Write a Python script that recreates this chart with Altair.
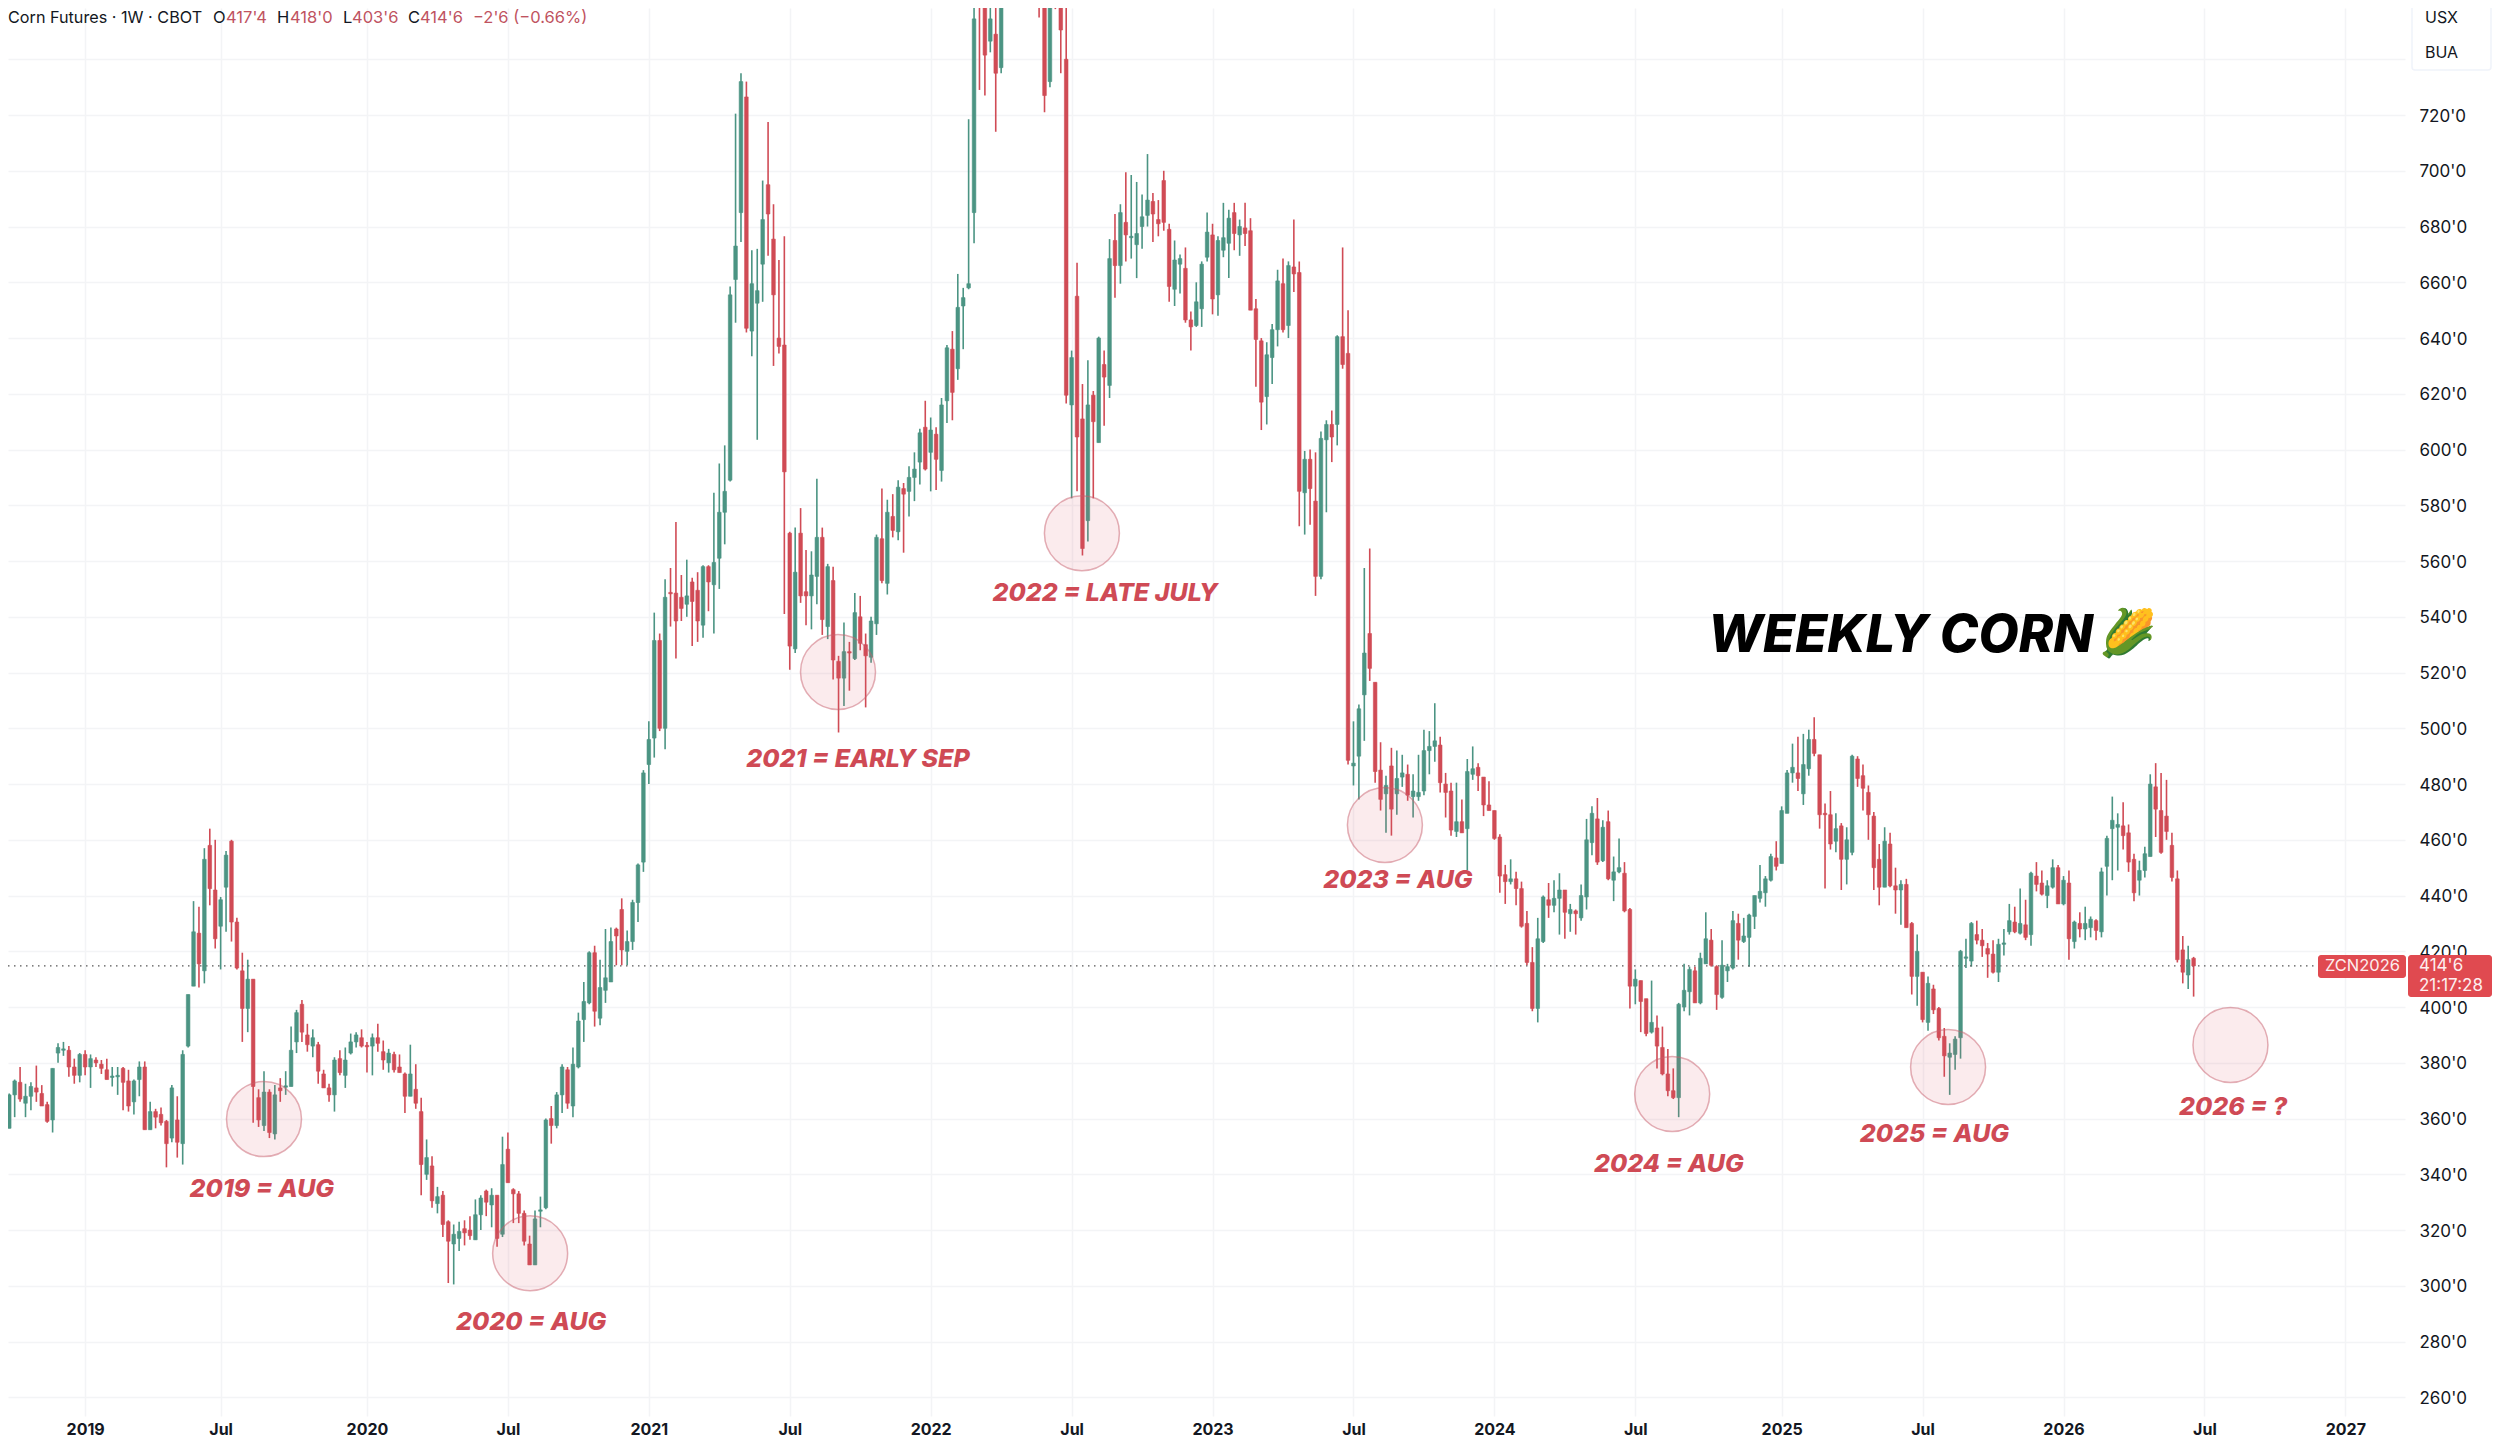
import altair as alt
import pandas as pd

# open, high, low, close per weekly bar
bars_a = [(357,367,355,356),(356.5,369,356.5,368.5),(368.5,374,360.5,373.5),(373,378.5,366,367),(365.5,372.5,360.5,368),(368,373,363,371.5),(371,379,366,369.5),(369,372,364.5,364.5),(365,366,358.5,359),(359.5,378,355,378),
(383.5,387,380,385.5),(384.5,387.5,382.5,385),(384.5,386,375,378.5),(378.5,381.5,372.5,375.5),(375.5,383.5,373,383),(383,384.5,375.5,378.5),(378.5,383,371,381.5),(381,382,378.5,380),(379.5,381,376,378),(377.5,381.5,374,374),
(374.75,378.5,371.5,375.25),(375,378.5,368.5,375.5),(378,378.5,363,373),(373.5,377.5,362.5,364.5),(366,374,361.5,373.5),(374,380.5,368,378.5),(378.5,380.5,356,356),(356,366,356,362.5),(362.5,363.5,356.5,360.5),(361.5,364,357.5,358.5),
(359,359.5,342.5,351),(353,372,351.5,371),(359.5,368,346,351.5),(351,384.5,343.5,383),(386,404.5,385.5,404.5),(407.5,438,407.5,427),(426.5,436,407,415.5),(413,457,408.5,453),(458,464,436.5,442.5),(442,460,421,424.5),
(429,439.5,413.5,438.5),(443,456,427,454.5),(459.5,460,423.5,430.5),(430.5,432,413.5,414),(413,419.5,387.5,399.5),(399.5,417,391,410),(410,410,358.5,371.5),(367.5,370.5,357,359.5),(357.5,377,355.5,369.5),(369.5,370.5,353,355)]
bars_b = [(354.5,372,352.5,368.5),(371,374.5,366,370),(371.25,377,368.5,371.75),(371.5,393,371.5,384.5),(387.5,399,383.5,398),(401,402.5,387.5,391),(390,394,384,386.5),(386,392,382,389),(386.5,387.5,372.5,377),(376,377.5,371,371),
(371,372.5,366,368.5),(368.5,382,362.5,381),(381.5,384.5,375.5,376.5),(375.5,385.5,371,381),(383.5,390.5,383,387.5),(387.5,391,385.5,390),(389,392,385.5,386),(386.25,387.5,376.5,385.75),(386,390.5,375.5,389),(389,394,384,387),
(384,388,377.5,381),(380,385,376.5,383.5),(383,384,376.5,377.5),(378.5,383,376.5,376.5),(376,376.5,362,368),(368,386.5,368,376),(370.5,379.5,363.5,365.5),(362.5,367.5,332.5,343.5),(340,352.5,338,346),(343,346.5,328,330.5),
(329.5,335.5,326,332),(332.5,334,317.5,322),(323,323.5,301,316),(315,322,300.5,318.5),(317,323,312.5,319.5),(320.5,323.5,314.5,319),(320,325,316.5,318),(316.5,331,316.5,325.5),(325.5,332.5,320,331.5),(334,334.5,325,330),
(329,335,321,332.5),(332.5,332.5,314,317),(318.5,353.5,317.5,343.5),(349,355,337,337),(334.5,335,322.5,333),(333,334,322.5,326),(326,327,314.5,316),(315,318,307.5,307.5),(307.5,327,307.5,324),(326.75,332,321,327.25)]
bars_c = [(328,360,327.5,359.5),(360,364.5,351,357.5),(357.5,369.5,356.5,368.5),(368.5,379.5,362,378.5),(377.5,378.5,363.5,365.5),(364.5,385.5,360.5,379.5),(378.5,398,378,395),(395.5,409,387.5,402),(401.5,420,401,419.5),(419.5,422,393,398.5),
(396,417,393.5,407),(406,428,401.5,410.5),(409,428.5,409,423.5),(428,428.5,415,425.5),(435,439,415,420.5),(420,427.5,415,423.5),(423.5,438.5,420.5,437.5),(437.5,451.5,430.5,451),(452,485,448.5,484),(487,502.5,480,496),
(496.5,541.5,489.5,531.5),(531.5,534,499,500),(500,553.5,492.5,547),(548.75,557.5,536.5,548.25),(548.5,574,525,538.5),(547,555,538.5,543),(544.5,560.5,540,547.5),(552.5,554,529.5,545.5),(549.5,556,531,538.5),(537,558.5,532.5,558),
(558,558.5,542,552.5),(551.5,584.5,534,559.5),(561,595,550,577.5),(577.5,601.5,566,585),(589,658.5,588.5,655.5),(661,720.5,645.5,673),(685,735,674.5,732),(726.5,732,642,643.5),(642.5,671.5,633.5,659.5),(652.5,672,603.5,657),
(666.5,696.5,653,682.5),(695,717.5,669.5,684.5),(675.5,688,630,655.5),(640,668,634.5,637),(637.5,676.5,541,592),(570,570.5,521,529.5),(528.5,572,527,556),(570,579,545,547.5),(549,564,537,547.5),(547.5,563.5,535.5,555)]
bars_d = [(554.5,589.5,544.5,568.5),(568.5,572,533.5,539),(536.5,559,532,558),(553,558,517.5,524.5),(524,526,498.5,518),(518,538,508,527.5),(527.5,531,513.5,527),(525,548.5,524.5,541.5),(540,547.5,528,530.5),(530,534,507.5,526),
(525.5,540,523.5,538.5),(537.5,569.5,533.5,568.5),(568,586,552,553),(552,582,548,577.5),(576,584,568.5,571),(570.5,589,567.5,586.5),(586,588,563,584),(585,594,576,590),(590,599,581.5,593),(595.5,607.5,587.5,606),
(608,617.5,592.5,593),(599,611.5,585,607),(605.5,608,585.5,596.5),(592.5,618.5,588.5,616),(617.5,637.5,609.5,636.5),(636,642.5,610.5,620.5),(629,663,625,651),(651.5,658,636,654.5),(658,718.5,657.5,659.5),(685,770,674,754.5),
(775,790,729,762),(770,785,727,741.5),(746.5,765,742.5,754.5),(749,765,714,735),(737,780,735,775),(775,790,765,785),(785,805,775,795),(795,815,785,805),(800,824,790,815),(805,820,785,790),
(790,805,770,780),(780,790,755,770),(770,790,721,727),(732,780,730,770),(775,790,758,770),(775,790,735,750.5),(740,762,616.5,619.5),(616,635.5,582.5,633),(655,667,585,604.5),(611,623.5,562,564.5)]
bars_e = [(574.5,632,567,616),(619.5,621,582.5,610),(602.5,640.5,602.5,640),(630.5,635.5,608.5,626),(623,675.5,618.5,668.5),(675,684.5,654.5,666),(666,688,659.5,685),(681.5,699.5,667.5,677),(676,698.5,668.5,676.5),(673.5,696,661.5,677.5),
(680,691.5,672,683.5),(684,706,680,689.5),(689,692,674.5,684.5),(682.5,689.5,676.5,681),(696.5,700,678.5,681.5),(679,681,653,658.5),(657.5,675,651.5,668),(666.5,670,656,668.5),(665,672.5,645.5,646.5),(646.5,649.5,635.5,644),
(644.5,660,644,653),(650.5,667.5,644,666.5),(669,685,667.5,678),(677,681,648.5,654),(655.5,676.5,648,675),(671.5,688.5,669,676),(674,686,661.5,683),(685,688.5,671.5,677.5),(677,682.5,669.5,680),(679.5,688.5,673,677.5),
(678.5,683,650,650),(650.5,654,622.5,639.5),(639,640,607,617),(619,638.5,609,634),(633,645,623.5,643),(643,664.5,637,660.5),(659.5,668.5,642,643),(644.5,667.5,640,666),(665.5,682.5,656.5,663),(663.5,667.5,572.5,585),
(584.5,599.5,569.5,596.5),(596.5,600,573,586),(581.5,599,547.5,554.5),(554.5,606.5,553.5,604),(603.5,610.5,577.5,609),(609,614,595.5,604.5),(609,641,601.5,640.5),(640.5,672.5,629,630.5),(634.5,650,487,488.5),(486.5,502.5,479.5,487.5)]
bars_f = [(490,508.5,474.5,507),(512,557.5,495.5,527),(534,564.5,517,521.5),(516.5,516.5,480.5,484.5),(485,495,470.5,474.5),(476.5,483,462.5,479.5),(486.5,493,461.5,471),(476.5,492,469,482),(482.5,490.5,479,484),(483.5,487,474,476),
(475.5,483.5,468,477.5),(475.5,490.5,474,477),(477.5,499.5,476,492),(492,499,483.5,493.5),(493.5,509,488,495.5),(494,497,477,480.5),(480,484,468,477),(477.5,480.5,461.5,463.5),(463,480.5,461,466.5),(466.5,474.5,462.5,462.5),
(464,489,449,484.5),(483.5,493.5,481.5,485.5),(486,487.5,477.5,483),(482.5,482.5,468.5,472.5),(472.5,481,470.5,470.5),(470.5,470.5,460,460.5),(461,462,441,447),(447.5,451,437,445),(445,453,444,446),(446,448.5,436.5,442.5),
(442.5,445,428.5,429),(430,434.5,415,416),(416,421.5,398.5,399.5),(399.5,432,394.5,424.5),(423.5,440,423,439.5),(438.5,444.5,432,436.5),(436.5,445.5,434,439),(439,448,426,442),(442,442,424.5,434),(433.5,437,427,435),
(434.5,435,426,433.5),(432,444,431,440),(439.5,467.5,435,460),(459,472,454.5,469.5),(467.5,475,451,452),(452.5,467,452,464.5),(466.5,470.5,445.5,446),(445.5,454,438,448.5),(448.5,460.5,448,450),(448,452,434,434.5)]
bars_g = [(435,435.5,399.5,407.5),(407.5,413.5,401,410),(409.5,409.5,391,402),(403,403,389.5,390.5),(391,409.5,390.5,394.5),(392.5,397,378,386),(385.5,393,375.5,376),(376,385,368,370),(370,378,367,367.5),(367.5,401.5,360.5,401),
(400,415.5,398.5,406),(405.5,414.5,397,413.5),(413,414.5,401.5,401.5),(401.5,419.5,401,417.5),(415.5,434,415.5,424.5),(424,428,414.5,415),(414.5,415,399,404.5),(403.5,424,403,415),(413,415.5,409,414.5),(414,434.5,413.5,431),
(430,433.5,417,424),(423.5,432,423,425.5),(425,433.5,414.5,433),(432.5,440,428,440),(439,451,437.5,441.5),(441,447,436,446),(445.5,455,445,454),(453.5,459.5,449,450.5),(451.5,472,451.5,470.5),(469.5,485,469.5,484),
(484,494.5,480.5,486),(484,497,477.5,482),(476.5,498,472.5,487),(485.5,499.5,483,496),(496,504,490,491),(490.5,490.5,464,469),(469.5,473,442.5,469),(469,477.5,456.5,458.5),(459.5,469.5,455.5,464),(465,466,442,453),
(453,464.5,444,460),(455.5,490.5,454.5,490),(489,490,479,482),(483,487,470.5,478.5),(477,479.5,460,469),(468.5,470,442,450),(453,458.5,436.5,443),(443,464.5,443,459.5),(458.5,462.5,443,443.5),(443.5,450,433.5,442)]
bars_h = [(442,445.5,429.5,444),(444,446,428.5,428.5),(430,430.5,404.5,411),(411,426,400.5,420),(412.5,412.5,394.5,395.5),(394.5,411,391.5,408.5),(406.5,408,397.5,399),(399.5,400,388,389),(389.5,392.5,375,382.5),(382,387,368.5,383.5),
(383,389.5,377.5,388.5),(389,420.5,381.5,420),(417.5,424.5,414,418),(416.5,430.5,414.5,430),(426,431,422.5,424),(424,428,418,422),(421,423,410.5,419),(419,424,412,412.5),(412.5,424.5,409,422.5),(422.5,428,418.5,423),
(427,437,426,431),(430.5,436,426.5,427),(426.5,442.5,426,430),(429.5,438.5,424,425),(426,448.5,422,448),(447,452,441.5,444),(444.5,449,440,440.5),(440,445.5,435.5,443.5),(443,453,442.5,450),(450,451,437,437),
(437,447,436.5,445.5),(444.5,449,417,424.5),(423.5,431,421,430.5),(430,434,425,428),(428,436,424,430),(428.5,432.5,425,431.5),(431,431.5,424,427.5),(427,450,425,448.5),(450.5,461.5,440,460.5),(464,475.5,445.5,467),
(464.5,469.5,449,465.5),(465,473.5,456.5,461.5),(462.5,465.5,448.5,452),(453,455,438,441),(445.5,452.5,440,449),(449,457.5,446.5,455),(454,483.5,454,480),(479,487.5,461,471),(470.5,484,455,455.5),(468.5,481.5,460,463),
(458,462.5,445,446.5),(446,449,416,417),(420.5,425.5,408.5,412.5),(411.5,422,406.5,417),(417.5,418,403.75,414.75)]

tick_weeks = [15,40,67,93,119,145,171,197,223,249,275,301,328,354,380,406,432]
tick_labels = ["2019","Jul","2020","Jul","2021","Jul","2022","Jul","2023","Jul","2024","Jul","2025","Jul","2026","Jul","2027"]
price_ticks = list(range(260, 741, 20))

zone_labels = ["2019 = AUG","2020 = AUG","2021 = EARLY SEP","2022 = LATE JULY","2023 = AUG","2024 = AUG","2025 = AUG","2026 = ?"]
zone_weeks = [48.0,97.1,153.9,198.9,254.8,307.8,358.7,410.8]
zone_prices = [359.8,311.7,520.2,570.0,465.3,368.8,378.5,386.4]
label_weeks = [47.6,97.3,157.6,203.2,257.2,307.2,356.2,411.3]
label_prices = [334.6,287.1,489.1,548.6,445.7,343.8,354.6,364.2]

last_price = 414.75

GREEN, RED = "#4b9483", "#d04b55"
FONT = "Inter"

rows = bars_a + bars_b + bars_c + bars_d + bars_e + bars_f + bars_g + bars_h
df = pd.DataFrame(rows, columns=["o", "h", "l", "c"])
df["week"] = range(len(df))
df["side"] = ["up" if c >= o else "down" for o, c in zip(df.o, df.c)]

xs = alt.Scale(domain=[0.77, 443], nice=False, zero=False, padding=0)
ys = alt.Scale(domain=[253.3, 758.4], nice=False, zero=False)
side = alt.Scale(domain=["up", "down"], range=[GREEN, RED])

x_axis = alt.Axis(
    title=None, values=tick_weeks, grid=True, gridColor="#f3f4f6", gridWidth=1.5,
    domain=False, ticks=False, labelPadding=5, labelFontSize=16, labelFont=FONT,
    labelColor="#131722", labelFlush=False, labelOverlap=False,
    labelExpr="%s[indexof(%s, datum.value)]" % (tick_labels, tick_weeks),
    labelFontWeight={"condition": {"test": "datum.label != 'Jul'", "value": "bold"}, "value": "normal"},
)
y_axis = alt.Axis(
    title=None, orient="right", values=price_ticks, grid=True, gridColor="#f3f4f6", gridWidth=1.5,
    domain=False, ticks=False, labelPadding=14, labelFontSize=17, labelFont=FONT, labelOffset=1,
    labelColor="#131722", labelOverlap=False,
    labelExpr="datum.value > 720 ? '' : format(datum.value, 'd') + \"'0\"",
)

X = lambda f: alt.X(f, scale=xs, axis=x_axis)
Y = lambda f: alt.Y(f, scale=ys, axis=y_axis)

wicks = alt.Chart(df).mark_rule(strokeWidth=1.6, clip=True).encode(
    x=X("week:Q"), y=Y("l:Q"), y2="h:Q",
    color=alt.Color("side:N", scale=side, legend=None),
)
bodies = alt.Chart(df).mark_bar(size=3.6, strokeWidth=0.6, clip=True, orient="vertical").encode(
    x=X("week:Q"), y=Y("o:Q"), y2="c:Q",
    color=alt.Color("side:N", scale=side, legend=None),
    stroke=alt.Stroke("side:N", scale=side, legend=None),
)

price_line = alt.Chart(pd.DataFrame({"a": [0.77], "b": [427], "p": [last_price]})).mark_rule(
    color="#555555", strokeWidth=1.3, strokeDash=[1.5, 4.5]
).encode(x=X("a:Q"), x2="b:Q", y=Y("p:Q"))

zones = alt.Chart(pd.DataFrame({"w": zone_weeks, "p": zone_prices})).mark_point(
    shape="circle", size=5625, filled=True, fill="#dc5a68", fillOpacity=0.12,
    stroke="#c8606e", strokeOpacity=0.5, strokeWidth=1.5,
).encode(x=X("w:Q"), y=Y("p:Q"))

zone_text = alt.Chart(pd.DataFrame({"w": label_weeks, "p": label_prices, "t": zone_labels})).mark_text(
    font=FONT, fontSize=25, fontWeight=800, fontStyle="italic", color="#cf4a55", align="center", baseline="middle"
).encode(x=X("w:Q"), y=Y("p:Q"), text="t:N")


def note(text, sx, sy, color="#131722", size=16.5, weight="normal", style="normal", align="left"):
    return alt.Chart(pd.DataFrame({"t": [text]})).mark_text(
        font=FONT, fontSize=size, fontWeight=weight, fontStyle=style, color=color, align=align, baseline="middle"
    ).encode(x=alt.value(sx - 8), y=alt.value(sy - 8), text="t:N")


def box(x0, x1, y0, y1, fill, stroke=None):
    kw = {"stroke": stroke, "strokeWidth": 1.5} if stroke else {}
    return alt.Chart(pd.DataFrame({"a": [0]})).mark_rect(fill=fill, cornerRadius=3, **kw).encode(
        x=alt.value(x0 - 8), x2=alt.value(x1 - 8), y=alt.value(y0 - 8), y2=alt.value(y1 - 8)
    )


MUTED = "#c0535f"
header = [
    note("Corn Futures · 1W · CBOT", 8, 18, size=16.2), note("O", 213, 18), note("417'4", 226, 18, MUTED),
    note("H", 277, 18), note("418'0", 290, 18, MUTED), note("L", 343, 18), note("403'6", 352, 18, MUTED),
    note("C", 408, 18), note("414'6", 420, 18, MUTED), note("−2'6 (−0.66%)", 473, 18, MUTED),
]
tags = [
    box(2318, 2406, 955, 978, "#e04a50"), box(2408, 2492, 955, 997, "#e04a50"),
    note("ZCN2026", 2325, 966, "#fdeeee", 16.5), note("414'6", 2419, 966, "#fdeeee", 17),
    note("21:17:28", 2419, 986, "#fdeeee", 17),
    box(2412, 2491, 2, 70, "#ffffff", "#f0f3fa"),
    note("USX", 2425, 18, "#131722", 16), note("BUA", 2425, 53, "#131722", 16),
]
title = [
    note("WEEKLY CORN", 1708, 636, "#000000", 52, 800, "italic"),
    note("🌽", 2099, 635, "#000000", 46),
]

chart = alt.layer(
    wicks, price_line, bodies, zones, zone_text, *header, *tags, *title
).resolve_scale(color="independent", stroke="independent").properties(
    width=2397, height=1408,
    autosize=alt.AutoSizeParams(type="none"),
    padding={"left": 0, "top": 0, "right": 87, "bottom": 20},
    background="#ffffff",
).configure_view(stroke=None)

chart.save("out.html", embed_options={"renderer": "svg", "actions": False})
